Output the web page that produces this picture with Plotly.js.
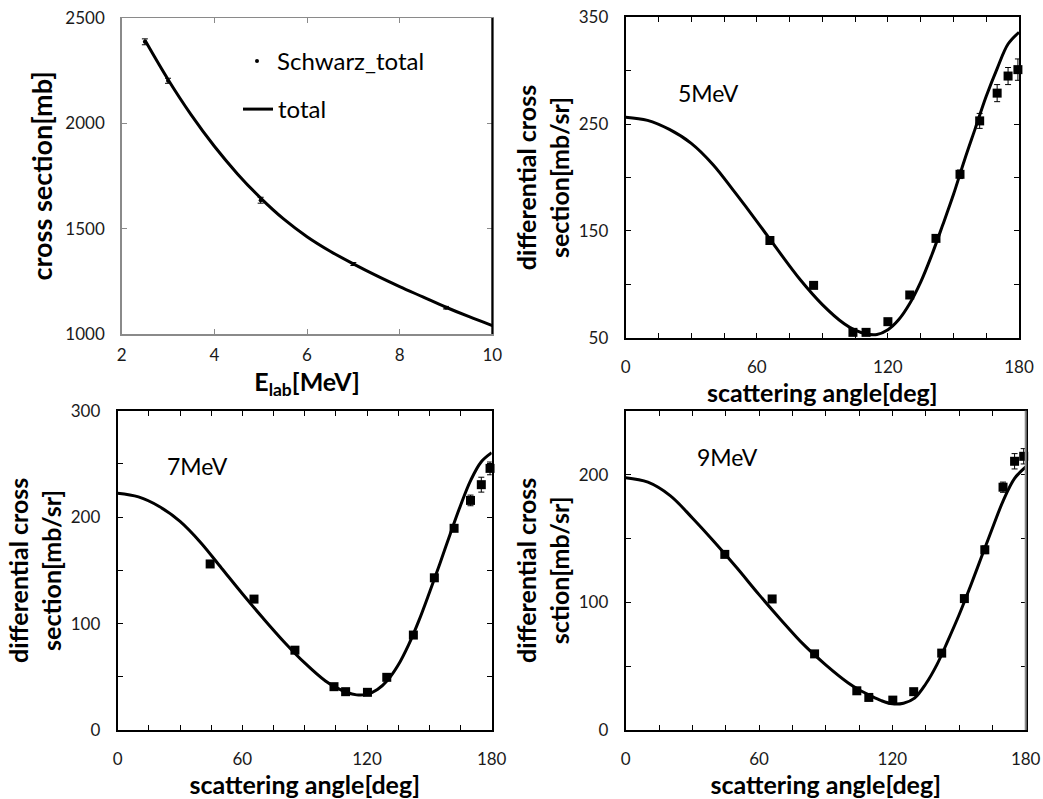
<!DOCTYPE html>
<html>
<head>
<meta charset="utf-8">
<script src="https://cdn.plot.ly/plotly-3.0.1.min.js"></script>
<style>html,body{margin:0;padding:0;background:#fff;}#chart{width:1043px;height:799px;}</style>
</head>
<body>
<div id="chart"></div>
<script>
// ---- Panel 1: total cross section ----
const E_schwarz = [2.5, 3, 5, 7, 9];
const sig_schwarz = [2387, 2202, 1635, 1332, 1125];
const sig_schwarz_err = [14, 12, 14, 7, 6];
const E_total = [2.5, 3, 3.5, 4, 4.5, 5, 5.5, 6, 6.5, 7, 7.5, 8, 8.5, 9, 9.5, 10];
const sig_total = [2395, 2208, 2040, 1891, 1760, 1645, 1545, 1462, 1393, 1333, 1277, 1225, 1176, 1127, 1082, 1040];

// ---- Panel 2: 5 MeV ----
const ang5_data = [66, 86, 104, 110, 120, 130, 142, 153, 162, 170, 175, 179.5];
const dsig5_data = [141, 99, 55, 55, 65, 90, 143, 203, 253, 279, 295, 301];
const dsig5_err = [3, 3, 2, 2, 2, 3, 3, 4, 7, 8, 8, 10];
const ang5_calc = [0, 10, 20, 30, 40, 50, 60, 70, 80, 90, 100, 105, 110, 115, 120, 125, 130, 135, 140, 145, 150, 155, 160, 165, 170, 175, 180];
const dsig5_calc = [256.5, 253.5, 245, 232, 212, 186, 159, 131, 104, 81, 63, 57, 53.5, 53, 57.5, 67, 82, 102, 127, 155, 184, 216, 246, 276, 302, 325, 336];

// ---- Panel 3: 7 MeV ----
const ang7_data = [44.5, 65.6, 85.3, 104.1, 109.7, 120.2, 129.5, 142.3, 152.4, 161.9, 169.8, 175, 179.2];
const dsig7_data = [156, 123, 75, 40.7, 36, 35.4, 49.5, 89.2, 143, 189.5, 215.7, 230.5, 245.8];
const dsig7_err = [2, 2, 2, 2, 2, 2, 2, 2, 3, 3, 5, 7, 6];
const ang7_calc = [0, 10, 20, 30, 40, 50, 60, 70, 80, 90, 100, 105, 110, 115, 120, 125, 130, 135, 140, 145, 150, 155, 160, 165, 170, 175, 180];
const dsig7_calc = [222.4, 219, 210, 196, 176, 152, 128, 105, 83, 63, 46, 40, 35.5, 33, 33.5, 38, 47, 61, 80, 103, 129, 156, 184, 211, 235, 252, 260.5];

// ---- Panel 4: 9 MeV ----
const ang9_data = [44.6, 65.9, 85, 104, 109.4, 120.2, 129.6, 142.2, 152.4, 161.6, 169.8, 175, 179.1];
const dsig9_data = [137.5, 102.6, 59.6, 30.7, 25.5, 23.4, 30, 60.2, 102.9, 141.1, 190.1, 210.4, 214.3];
const dsig9_err = [2, 2, 2, 2, 2, 2, 2, 2, 2, 3, 4, 6, 6];
const ang9_calc = [0, 10, 20, 30, 40, 50, 60, 70, 80, 90, 100, 105, 110, 115, 120, 125, 130, 135, 140, 145, 150, 155, 160, 165, 170, 175, 180];
const dsig9_calc = [197.5, 194, 183.5, 166, 147, 127, 106, 86, 67, 51, 37, 31.5, 27, 23, 20.5, 21, 25, 36, 51, 70, 90, 112, 135, 158, 180, 197, 206];

const energyLabels = ['5MeV', '7MeV', '9MeV'];

const W = 1043, H = 799;
const FONT = 'Lato, "Open Sans", "Liberation Sans", sans-serif';
const px = v => v / W;
const py = v => 1 - v / H;

function pts(x, y, err, xa, ya, extra) {
  return Object.assign({
    x: x, y: y, xaxis: xa, yaxis: ya, type: 'scatter', mode: 'markers',
    marker: {symbol: 'square', size: 9, color: '#000'},
    error_y: {type: 'data', array: err, visible: true, color: '#000', thickness: 1, width: 3},
    showlegend: false, cliponaxis: false
  }, extra || {});
}
function curve(x, y, xa, ya, extra) {
  return Object.assign({
    x: x, y: y, xaxis: xa, yaxis: ya, type: 'scatter', mode: 'lines',
    line: {color: '#000', width: 3, shape: 'spline', smoothing: 1},
    showlegend: false
  }, extra || {});
}

const traces = [
  curve(E_total, sig_total, 'x', 'y', {name: 'total', showlegend: true, legend: 'legend2'}),
  pts(E_schwarz, sig_schwarz, sig_schwarz_err, 'x', 'y', {name: 'Schwarz_total', showlegend: true, legend: 'legend',
      marker: {symbol: 'circle', size: 4, color: '#000'}}),
  curve(ang5_calc, dsig5_calc, 'x2', 'y2'),
  pts(ang5_data, dsig5_data, dsig5_err, 'x2', 'y2'),
  curve(ang7_calc, dsig7_calc, 'x3', 'y3'),
  pts(ang7_data, dsig7_data, dsig7_err, 'x3', 'y3'),
  curve(ang9_calc, dsig9_calc, 'x4', 'y4'),
  pts(ang9_data, dsig9_data, dsig9_err, 'x4', 'y4')
];

const tickFont = {family: FONT, size: 17, color: '#1a1a1a'};
const titleFont = {family: FONT, size: 25, color: '#000', weight: 'bold'};
const labelFont = {family: FONT, size: 23, color: '#000'};

function axis(opts) {
  return Object.assign({
    showgrid: false, zeroline: false, showline: true, linecolor: '#000', linewidth: 2,
    mirror: 'allticks', ticks: 'inside', ticklen: 5, tickwidth: 1, tickcolor: '#000',
    tickfont: tickFont, automargin: false, fixedrange: true
  }, opts);
}
const minorTicks = {ticks: 'inside', ticklen: 5, tickcolor: '#000'};

const layout = {
  width: W, height: H,
  margin: {l: 0, r: 0, t: 0, b: 0},
  paper_bgcolor: '#fff', plot_bgcolor: '#fff',
  font: {family: FONT, color: '#000'},
  xaxis: axis({domain: [px(121.7), px(492.3)], range: [2, 10], dtick: 2, anchor: 'y',
    linecolor: '#8a8a8a', linewidth: 1.5, tickcolor: '#8a8a8a', ticklabelstandoff: 5,
    title: {text: 'E<sub>lab</sub>[MeV]', font: titleFont, standoff: 9}}),
  yaxis: axis({domain: [py(334), py(18)], range: [1000, 2500], dtick: 500, anchor: 'x',
    linecolor: '#8a8a8a', linewidth: 1.5, tickcolor: '#8a8a8a', ticklabelstandoff: 12,
    title: {text: 'cross section[mb]', font: Object.assign({}, titleFont, {size: 27}), standoff: 5}}),
  xaxis2: axis({domain: [px(625.7), px(1019)], range: [0, 180], dtick: 60, anchor: 'y2',
    minor: Object.assign({dtick: 15}, minorTicks), ticklabelstandoff: 13,
    title: {text: 'scattering angle[deg]', font: titleFont, standoff: 0}}),
  yaxis2: axis({domain: [py(337.7), py(17.3)], range: [50, 350], tick0: 50, dtick: 100, anchor: 'x2',
    minor: Object.assign({dtick: 50}, minorTicks), ticklabelstandoff: 12,
    title: {text: 'differential cross<br>section[mb/sr]', font: titleFont, standoff: 2}}),
  xaxis3: axis({domain: [px(117.7), px(491.7)], range: [0, 180], dtick: 60, anchor: 'y3',
    minor: Object.assign({dtick: 15}, minorTicks), ticklabelstandoff: 13,
    title: {text: 'scattering angle[deg]', font: titleFont, standoff: 2}}),
  yaxis3: axis({domain: [py(730), py(410.7)], range: [0, 300], dtick: 100, anchor: 'x3',
    minor: Object.assign({dtick: 50}, minorTicks), ticklabelstandoff: 12,
    title: {text: 'differential cross<br>section[mb/sr]', font: titleFont, standoff: 2}}),
  xaxis4: axis({domain: [px(625.7), px(1025.7)], range: [0, 180], dtick: 60, anchor: 'y4',
    minor: Object.assign({dtick: 15}, minorTicks), ticklabelstandoff: 13,
    title: {text: 'scattering angle[deg]', font: titleFont, standoff: 2}}),
  yaxis4: axis({domain: [py(730), py(410.7)], range: [0, 250], dtick: 100, anchor: 'x4',
    minor: Object.assign({dtick: 50}, minorTicks), ticklabelstandoff: 12,
    title: {text: 'differential cross<br>sction[mb/sr]', font: titleFont, standoff: 2}}),
  legend: {x: px(237), y: py(39), xanchor: 'left', yanchor: 'top', bgcolor: 'rgba(0,0,0,0)',
    font: {family: FONT, size: 24, color: '#000'}, itemwidth: 30},
  legend2: {x: px(238), y: py(87), xanchor: 'left', yanchor: 'top', bgcolor: 'rgba(0,0,0,0)',
    font: {family: FONT, size: 24, color: '#000'}, itemwidth: 30},
  shapes: [
    {type: 'line', xref: 'x domain', yref: 'y domain', x0: 1, x1: 1, y0: 0, y1: 1, line: {color: '#000', width: 2}},
    {type: 'line', xref: 'x4 domain', yref: 'y4 domain', x0: 1, x1: 1, y0: 0, y1: 1, line: {color: '#8a8a8a', width: 2}}
  ],
  annotations: [
    {xref: 'x2', yref: 'y2', x: 38.1, y: 279, text: energyLabels[0], showarrow: false, font: labelFont},
    {xref: 'x3', yref: 'y3', x: 38.2, y: 248, text: energyLabels[1], showarrow: false, font: labelFont},
    {xref: 'x4', yref: 'y4', x: 45.6, y: 214, text: energyLabels[2], showarrow: false, font: labelFont}
  ]
};

Plotly.newPlot('chart', traces, layout, {staticPlot: true, displayModeBar: false});
</script>
</body>
</html>
